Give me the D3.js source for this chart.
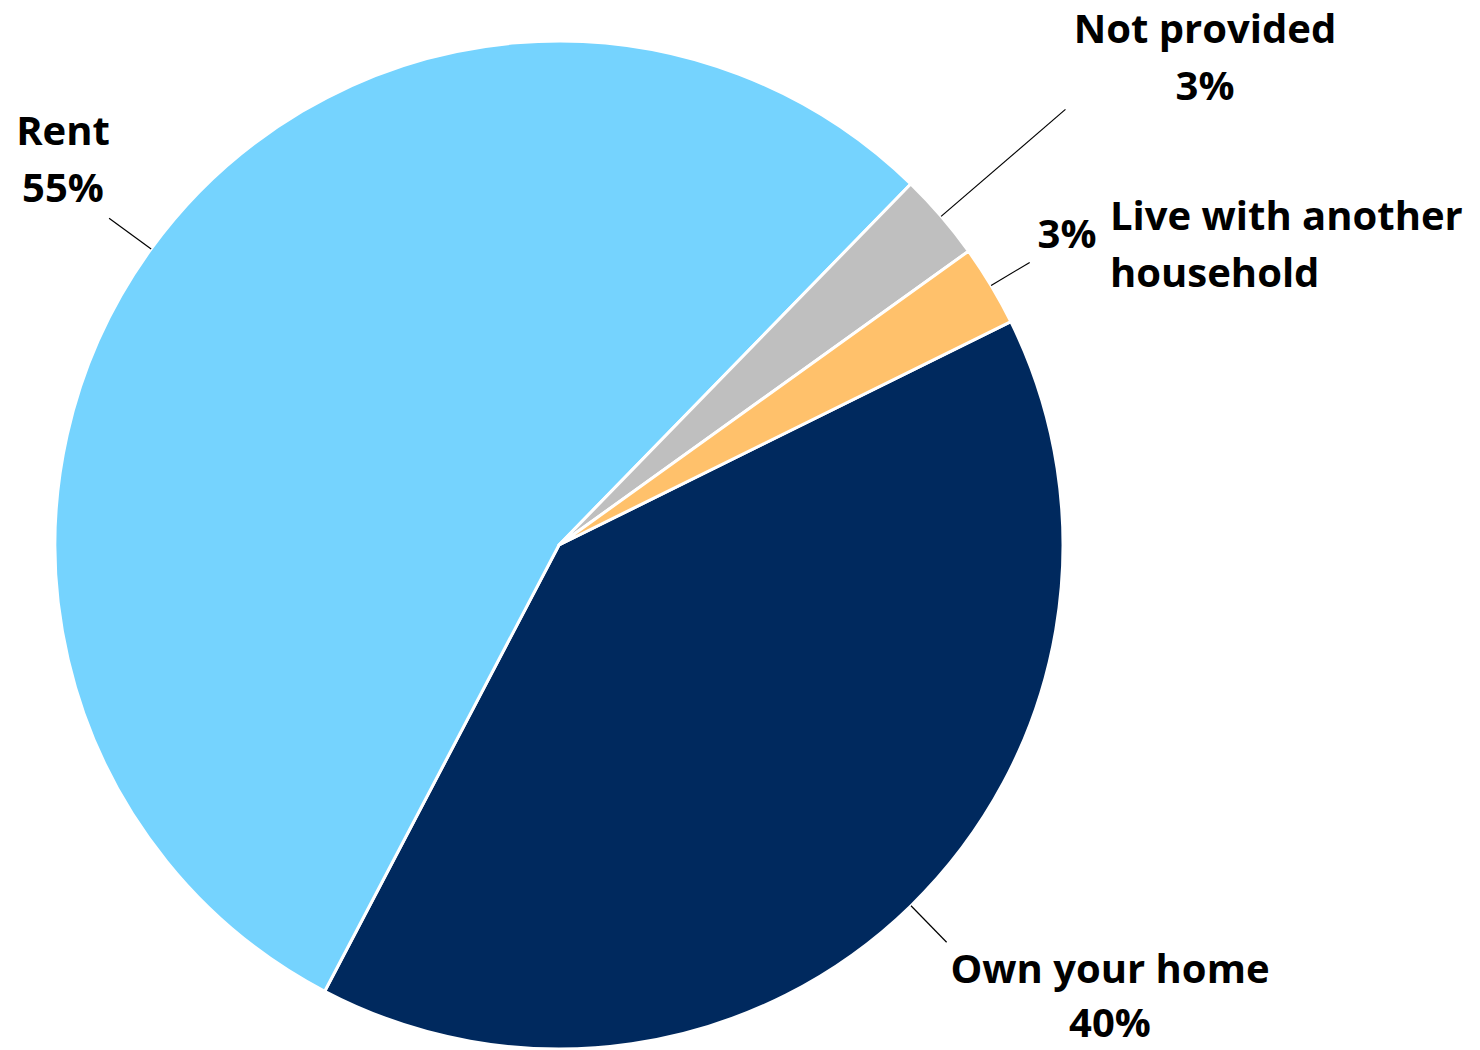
<!DOCTYPE html>
<html>
<head>
<meta charset="utf-8">
<script src="https://cdn.jsdelivr.net/npm/d3@7"></script>
<style>
  html, body { margin: 0; padding: 0; background: #fff; }
  svg { display: block; }
  text { font-family: "Open Sans", Lato, sans-serif; font-weight: 700; fill: #000; }
</style>
</head>
<body>
<svg id="chart" width="1480" height="1050"></svg>
<script>
// Housing situation shares (percent)
const categories = ["Own your home", "Rent", "Not provided", "Live with another household"];
const values = [40.0, 54.6, 2.8, 2.6];
const colors = ["#00295E", "#75D3FE", "#BFBFBF", "#FFC16B"];

const W = 1480, H = 1050;
const cx = 559, cy = 545, R = 504;
const startDeg = 63.7;

const svg = d3.select("#chart");
const g = svg.append("g").attr("transform", `translate(${cx},${cy})`);

const pie = d3.pie()
  .sort(null)
  .value(d => d.value)
  .startAngle(startDeg * Math.PI / 180)
  .endAngle(startDeg * Math.PI / 180 + 2 * Math.PI);

const data = categories.map((c, i) => ({ name: c, value: values[i], color: colors[i] }));
const arcs = pie(data);
const arc = d3.arc().innerRadius(0).outerRadius(R);

g.selectAll("path.slice")
  .data(arcs)
  .join("path")
  .attr("class", "slice")
  .attr("d", arc)
  .attr("fill", d => d.data.color)
  .attr("stroke", "#fff")
  .attr("stroke-width", 3)
  .attr("stroke-linejoin", "round");

const total = d3.sum(values);
const pct = v => Math.round(v / total * 100) + "%";

// leader line lengths (outer radius of line end)
const leaderR = [555, 556, 668, 549];

const polar = (a, r) => [r * Math.sin(a), -r * Math.cos(a)];

g.selectAll("line.leader")
  .data(arcs)
  .join("line")
  .attr("class", "leader")
  .each(function (d, i) {
    const a = (d.startAngle + d.endAngle) / 2;
    const [x1, y1] = polar(a, R);
    const [x2, y2] = polar(a, leaderR[i]);
    d3.select(this).attr("x1", x1).attr("y1", y1).attr("x2", x2).attr("y2", y2);
  })
  .attr("stroke", "#000")
  .attr("stroke-width", 1.2);

const fs = 40;
const labels = svg.append("g").style("font-size", fs + "px");

function block(x, y, lines, anchor, lh) {
  const t = labels.append("text").attr("text-anchor", anchor || "middle");
  lines.forEach((s, k) => {
    t.append("tspan").attr("x", x).attr("y", y + k * (lh || 57)).text(s);
  });
  return t;
}

// Own your home
block(1110, 983, [categories[0], pct(values[0])], "middle", 54);
// Rent
block(63, 145, [categories[1], pct(values[1])]);
// Not provided
block(1205, 43, [categories[2], pct(values[2])]);
// Live with another household: value to the left, wrapped name to the right
block(1067, 248, [pct(values[3])]);
block(1110, 230, ["Live with another", "household"], "start");
</script>
</body>
</html>
